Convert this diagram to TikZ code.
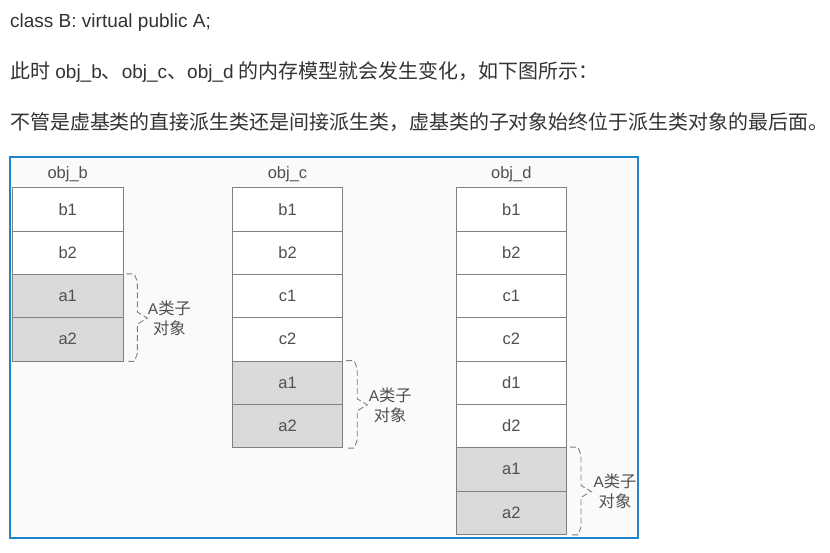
\documentclass[tikz,border=0pt]{standalone}
\usepackage{fontspec}
\setmainfont{Liberation Sans}
\newfontfamily\cjk{Noto Sans CJK SC}[Scale=1.05]
\usetikzlibrary{positioning}
\definecolor{textgray}{RGB}{51,51,51}
\definecolor{frameblue}{RGB}{28,134,200}
\definecolor{panelbg}{RGB}{250,250,250}
\definecolor{cellline}{RGB}{128,128,128}
\definecolor{cellfill}{RGB}{218,218,220}
\definecolor{celltext}{RGB}{80,80,80}

\begin{document}
\begin{tikzpicture}[x=1pt, y=-1pt,
    every node/.style={inner sep=0pt, text=celltext},
    textline/.style={anchor=base west, text=textgray, font=\fontsize{19}{19}\selectfont},
    cell/.style={draw=cellline, line width=0.9pt, fill=white, minimum width=110.5pt, minimum height=43.33pt, font=\fontsize{16.5}{16.5}\selectfont},
    acell/.style={cell, fill=cellfill},
    head/.style={font=\fontsize{16.5}{16.5}\selectfont},
    abrace/.style={draw=cellline, line width=0.9pt, dash pattern=on 6pt off 3pt},
    alabel/.style={align=center, font=\fontsize{15.5}{20}\selectfont}]
    \fill[white] (0,0) rectangle (830,552);
    \useasboundingbox (0,0) rectangle (830,552);

    % Text above the figure
    \node[textline] (line1) at (10,27) {class B: virtual public A;};
    \node[textline] (line2) at (10,78) {{\cjk 此时} obj\_b{\cjk 、}obj\_c{\cjk 、}obj\_d {\cjk 的内存模型就会发生变化，如下图所示：}};
    \node[textline] (line3) at (10,129) {\cjk 不管是虚基类的直接派生类还是间接派生类，虚基类的子对象始终位于派生类对象的最后面。};

    % Frame
    \draw[frameblue, fill=panelbg, line width=1.2pt] (10,157) rectangle (638,538);

    % obj_b
    \node[head] (objb) at (67.7,174) {obj\_b};
    \node[cell] (bb1) at (67.7,209.3) {b1};
    \node[cell] (bb2) at (67.7,252.7) {b2};
    \node[acell] (ba1) at (67.7,296) {a1};
    \node[acell] (ba2) at (67.7,339.3) {a2};

    % obj_c
    \node[head] (objc) at (287.5,174) {obj\_c};
    \node[cell] (cb1) at (287.5,209.3) {b1};
    \node[cell] (cb2) at (287.5,252.7) {b2};
    \node[cell] (cc1) at (287.5,296) {c1};
    \node[cell] (cc2) at (287.5,339.3) {c2};
    \node[acell] (ca1) at (287.5,382.7) {a1};
    \node[acell] (ca2) at (287.5,426) {a2};

    % obj_d
    \node[head] (objd) at (511.3,174) {obj\_d};
    \node[cell] (db1) at (511.3,209.3) {b1};
    \node[cell] (db2) at (511.3,252.7) {b2};
    \node[cell] (dc1) at (511.3,296) {c1};
    \node[cell] (dc2) at (511.3,339.3) {c2};
    \node[cell] (dd1) at (511.3,382.7) {d1};
    \node[cell] (dd2) at (511.3,426) {d2};
    \node[acell] (da1) at (511.3,469.3) {a1};
    \node[acell] (da2) at (511.3,512.7) {a2};

    % Braces for the A sub-objects
    \draw[abrace] ([xshift=3pt]ba1.north east) -- ++(8,0) -- ++(3,8)
        -- ([xshift=14pt,yshift=6pt]ba1.south east) -- ([xshift=24pt]ba1.south east)
        -- ([xshift=14pt,yshift=-6pt]ba1.south east) -- ([xshift=14pt,yshift=8pt]ba2.south east)
        -- ++(-3,8) -- ([xshift=3pt]ba2.south east);
    \draw[abrace] ([xshift=3pt]ca1.north east) -- ++(8,0) -- ++(3,8)
        -- ([xshift=14pt,yshift=6pt]ca1.south east) -- ([xshift=24pt]ca1.south east)
        -- ([xshift=14pt,yshift=-6pt]ca1.south east) -- ([xshift=14pt,yshift=8pt]ca2.south east)
        -- ++(-3,8) -- ([xshift=3pt]ca2.south east);
    \draw[abrace] ([xshift=3pt]da1.north east) -- ++(8,0) -- ++(3,8)
        -- ([xshift=14pt,yshift=6pt]da1.south east) -- ([xshift=24pt]da1.south east)
        -- ([xshift=14pt,yshift=-6pt]da1.south east) -- ([xshift=14pt,yshift=8pt]da2.south east)
        -- ++(-3,8) -- ([xshift=3pt]da2.south east);

    % Brace labels
    \node[alabel] (blabel) at ([xshift=46pt]ba1.south east) {A{\cjk 类子}\\{\cjk 对象}};
    \node[alabel] (clabel) at ([xshift=47pt]ca1.south east) {A{\cjk 类子}\\{\cjk 对象}};
    \node[alabel] (dlabel) at ([xshift=48pt]da1.south east) {A{\cjk 类子}\\{\cjk 对象}};
\end{tikzpicture}
\end{document}
